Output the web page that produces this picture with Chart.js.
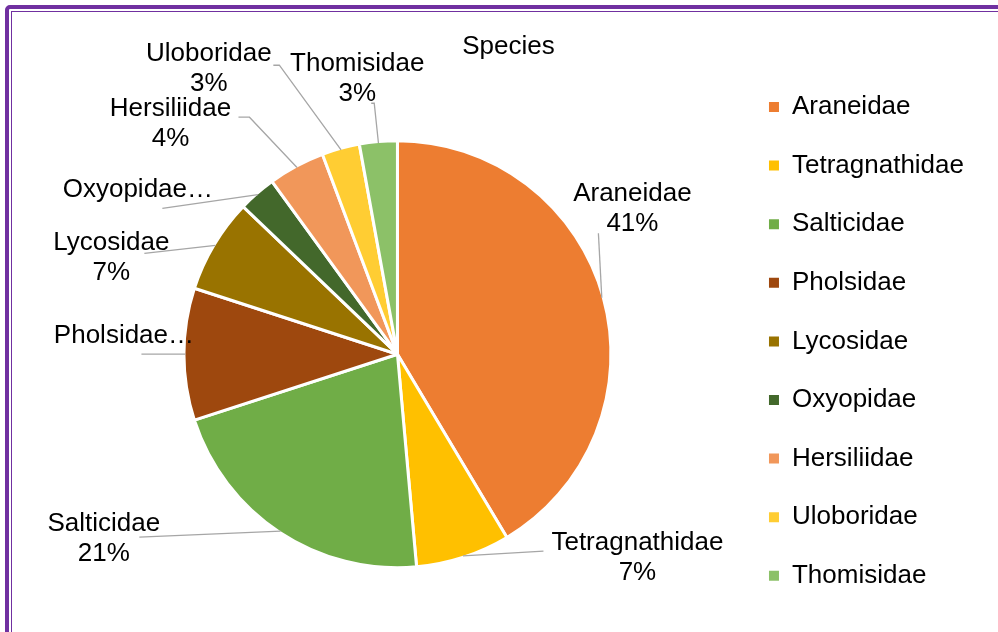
<!DOCTYPE html>
<html>
<head>
<meta charset="utf-8">
<title>Species</title>
<script src="https://cdn.jsdelivr.net/npm/chart.js@4.4.0/dist/chart.umd.min.js"></script>
<style>
  html, body { margin: 0; padding: 0; background: #fff; overflow: hidden; }
  #wrap { position: relative; width: 998px; height: 632px; overflow: hidden; }
  .frame-outer { position: absolute; left: 5px; top: 5px; width: 1200px; height: 900px; border: 4px solid #7030a0; border-radius: 5px; }
  .frame-inner { position: absolute; left: 11px; top: 11px; width: 1200px; height: 900px; border: 1px solid #7030a0; }
  #speciesChart { position: absolute; left: 0; top: 0; }
</style>
</head>
<body>
<div id="wrap">
  <div class="frame-outer"></div>
  <div class="frame-inner"></div>
  <canvas id="speciesChart" width="998" height="647"></canvas>
</div>
<script>
// Spider families and number of species in each
const families = ['Araneidae', 'Tetragnathidae', 'Salticidae', 'Pholsidae', 'Lycosidae',
                  'Oxyopidae', 'Hersiliidae', 'Uloboridae', 'Thomisidae'];
const speciesCounts = [29, 5, 15, 7, 5, 2, 3, 2, 2];

const sliceColors = ['#ed7d31', '#ffc000', '#70ad47', '#9e480e', '#997300',
                     '#43682b', '#f1975a', '#ffcd33', '#8cc168'];

// where each data label sits, relative to the middle of its slice's outer edge
// (text block centre + leader line bends); "short" labels are cut off with an ellipsis
const labelPlacement = [
    { dx: 30.6, dy: -90.1, leader: [[-3.4, -64.6]] },
    { dx: 174.5, dy: 1.4, leader: [[80.5, -4.6]] },
    { dx: -176.8, dy: 6.5, leader: [[-141.3, 6]] },
    { dx: -61.5, dy: -19, leader: [[-44, 0]], short: true },
    { dx: -104.1, dy: 11.4, leader: [[-71.1, 7.9]] },
    { dx: -120.1, dy: -5.7, leader: [[-95.6, 13.8]], short: true },
    { dx: -126.5, dy: -44.3, leader: [[-47.5, -50.3], [-58.5, -50.3]] },
    { dx: -132.2, dy: -82.1, leader: [[-61.7, -84.6], [-67.7, -84.6]] },
    { dx: -21.2, dy: -64.8, leader: [[-4.2, -39.8], [-7.2, -39.8]] }
];

const FONT = '"Liberation Sans", Arial, sans-serif';
Chart.defaults.font.family = FONT;
Chart.defaults.color = '#000';

// labels outside the pie with grey leader lines, plus the caption on top
const sliceLabels = {
    id: 'sliceLabels',
    afterDatasetsDraw(chart, args, opts) {
        const ctx = chart.ctx;
        const meta = chart.getDatasetMeta(0);
        const values = chart.data.datasets[0].data;
        const total = values.reduce((a, b) => a + b, 0);
        const border = chart.data.datasets[0].borderWidth / 2;

        ctx.save();
        ctx.font = opts.fontSize + 'px ' + FONT;
        ctx.textAlign = 'center';
        ctx.textBaseline = 'middle';
        ctx.fillStyle = '#000';

        meta.data.forEach((arc, i) => {
            const p = arc.getProps(['x', 'y', 'startAngle', 'endAngle', 'outerRadius'], true);
            const mid = (p.startAngle + p.endAngle) / 2;
            const r = p.outerRadius - border;
            const ax = p.x + Math.cos(mid) * r;
            const ay = p.y + Math.sin(mid) * r;
            const place = labelPlacement[i];

            ctx.beginPath();
            ctx.moveTo(ax, ay);
            place.leader.forEach(pt => ctx.lineTo(ax + pt[0], ay + pt[1]));
            ctx.strokeStyle = '#a6a6a6';
            ctx.lineWidth = 1.3;
            ctx.stroke();

            const cx = ax + place.dx;
            const cy = ay + place.dy + 1;
            const name = chart.data.labels[i];
            if (place.short) {
                ctx.fillText(name + '\u2026', cx, cy);
            } else {
                const pct = Math.round(values[i] / total * 100) + '%';
                ctx.fillText(name, cx, cy - opts.lineGap / 2);
                ctx.fillText(pct, cx, cy + opts.lineGap / 2);
            }
        });

        ctx.fillText(opts.caption, opts.captionX, opts.captionY);
        ctx.restore();
    }
};

const ctx = document.getElementById('speciesChart');
new Chart(ctx, {
    type: 'pie',
    data: {
        labels: families,
        datasets: [{
            data: speciesCounts,
            backgroundColor: sliceColors,
            borderColor: '#ffffff',
            borderWidth: 3
        }]
    },
    options: {
        responsive: false,
        devicePixelRatio: 1,
        animation: false,
        radius: 213.5,
        layout: { padding: { left: 58.5, right: 24, top: 61.4, bottom: 0 } },
        plugins: {
            tooltip: { enabled: false },
            title: { display: false },
            legend: {
                position: 'right',
                align: 'start',
                labels: {
                    boxWidth: 10,
                    boxHeight: 10,
                    padding: 32.6,
                    color: '#000',
                    font: { size: 26 },
                    generateLabels(chart) {
                        const items = Chart.overrides.pie.plugins.legend.labels.generateLabels(chart);
                        return items.map(item => ({ ...item, lineWidth: 0 }));
                    }
                }
            },
            sliceLabels: {
                fontSize: 26,
                lineGap: 30,
                caption: 'Species',
                captionX: 508.5,
                captionY: 47
            }
        }
    },
    plugins: [sliceLabels]
});
</script>
</body>
</html>
